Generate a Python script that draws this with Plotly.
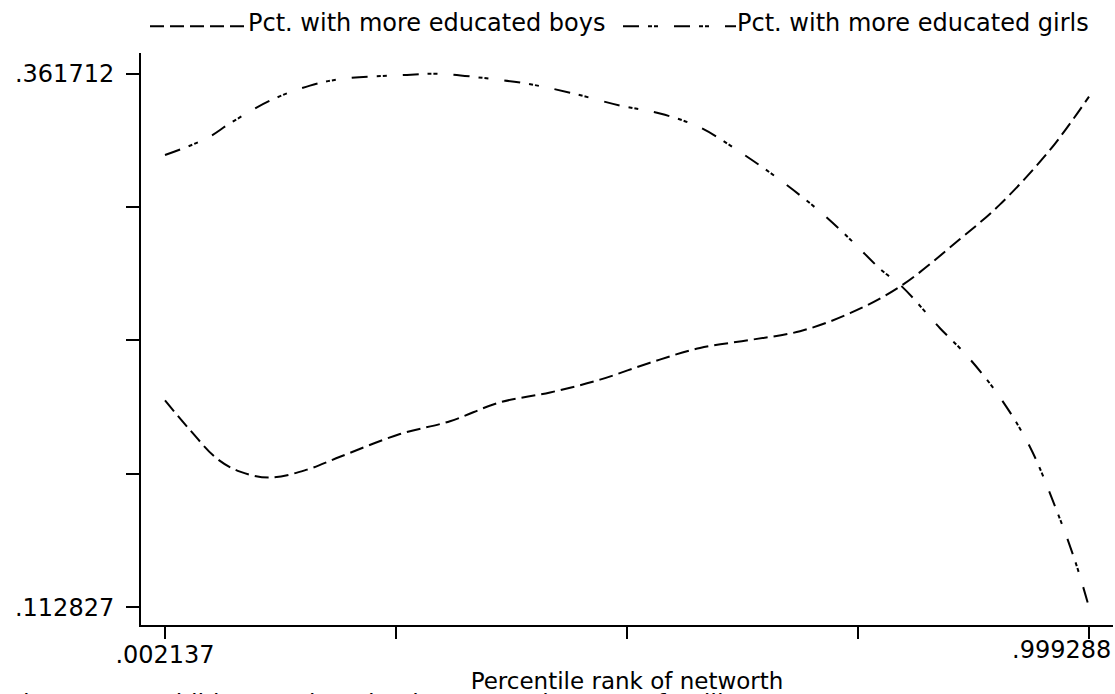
import plotly.graph_objects as go

# Smoothed shares by percentile rank of net worth
rank_boys = [0.002137, 0.0291, 0.0583, 0.0831, 0.1154, 0.1554, 0.1910, 0.2557, 0.3097,
             0.3637, 0.4177, 0.4716, 0.5256, 0.5795, 0.6335, 0.6874, 0.7414, 0.7953,
             0.8601, 0.9033, 0.9572, 0.999288]
pct_boys = [0.2093, 0.1955, 0.1821, 0.1761, 0.1733, 0.1770, 0.1830, 0.1936, 0.1996,
            0.2084, 0.2130, 0.2190, 0.2269, 0.2338, 0.2375, 0.2416, 0.2500, 0.2624,
            0.2846, 0.3008, 0.3262, 0.3511]

rank_girls = [0.002137, 0.0475, 0.0723, 0.1154, 0.1586, 0.1942, 0.2633, 0.2989, 0.3453,
              0.3928, 0.4392, 0.4932, 0.5363, 0.5795, 0.6227, 0.6658, 0.7090, 0.7446,
              0.7738, 0.7975, 0.8385, 0.8677, 0.9033, 0.9356, 0.9626, 0.9842, 0.999288]
pct_girls = [0.3238, 0.3317, 0.3386, 0.3492, 0.3562, 0.3594, 0.3612, 0.361712, 0.3598,
             0.3571, 0.3529, 0.3469, 0.3432, 0.3367, 0.3252, 0.3122, 0.2974, 0.2832,
             0.2707, 0.2624, 0.2430, 0.2301, 0.2107, 0.1876, 0.1599, 0.1345, 0.112827]

x_min, x_max = 0.002137, 0.999288
y_min, y_max = 0.112827, 0.361712
x_ticks = [x_min + k * (x_max - x_min) / 4 for k in range(5)]
y_ticks = [y_min + k * (y_max - y_min) / 4 for k in range(5)]
x_ticktext = [".002137", "", "", "", ""]
y_ticktext = [".112827", "", "", "", ".361712"]

series_names = ["Pct. with more educated boys", "Pct. with more educated girls"]
caption = "Figure 2.1c: Children's education by networth, SB, PS families"

FONT = "DejaVu Sans"
BOYS_DASH = "14px,6px"
GIRLS_DASH = "16px,9px,4px,2px,4px,16px"

# Plot area geometry in pixels
W, H = 1115, 694
L, R, T, B = 141, 2, 53, 64
PW, PH = W - L - R, H - T - B


def px(xp):
    return (xp - L) / PW


def py(yp):
    return (H - B - yp) / PH


fig = go.Figure()
fig.add_trace(go.Scatter(x=rank_boys, y=pct_boys, mode="lines", name=series_names[0],
                         line=dict(color="black", width=2, dash=BOYS_DASH,
                                   shape="spline", smoothing=1.0)))
fig.add_trace(go.Scatter(x=rank_girls, y=pct_girls, mode="lines", name=series_names[1],
                         line=dict(color="black", width=2, dash=GIRLS_DASH,
                                   shape="spline", smoothing=1.0)))

# Legend line samples and labels across the top
legend_y = 26
fig.add_shape(type="line", xref="paper", yref="paper", x0=px(150), x1=px(246),
              y0=py(legend_y), y1=py(legend_y),
              line=dict(color="black", width=2, dash=BOYS_DASH))
fig.add_shape(type="line", xref="paper", yref="paper", x0=px(623), x1=px(736),
              y0=py(legend_y), y1=py(legend_y),
              line=dict(color="black", width=2, dash=GIRLS_DASH))
fig.add_annotation(xref="paper", yref="paper", x=px(246), y=py(23), xanchor="left",
                   yanchor="middle", text=series_names[0], showarrow=False,
                   font=dict(family=FONT, size=24, color="black"))
fig.add_annotation(xref="paper", yref="paper", x=px(735), y=py(23), xanchor="left",
                   yanchor="middle", text=series_names[1], showarrow=False,
                   font=dict(family=FONT, size=24, color="black"))

# Right-hand x tick label, kept inside the page edge
fig.add_annotation(xref="x", yref="paper", x=x_max, y=0, xanchor="right", yanchor="top",
                   xshift=24, yshift=-9, text=".999288", showarrow=False,
                   font=dict(family=FONT, size=24, color="black"))

# Caption below the chart, running off the bottom of the page
fig.add_annotation(xref="paper", yref="paper", x=px(9), y=py(694), xanchor="left",
                   yanchor="top", text=caption, showarrow=False,
                   font=dict(family=FONT, size=24, color="black"))

fig.update_layout(
    width=W, height=H,
    margin=dict(l=L, r=R, t=T, b=B, pad=0),
    paper_bgcolor="white", plot_bgcolor="white",
    showlegend=False,
    font=dict(family=FONT, size=24, color="black"),
    xaxis=dict(
        range=[x_min - 24 / 926.6, x_max + 24 / 926.6],
        tickvals=x_ticks, ticktext=x_ticktext,
        ticks="outside", ticklen=12, tickwidth=2, tickcolor="black",
        showline=True, linewidth=2, linecolor="black",
        showgrid=False, zeroline=False,
        ticklabelstandoff=-5,
        title=dict(text="Percentile rank of networth", standoff=7,
                   font=dict(family=FONT, size=23)),
        tickfont=dict(family=FONT, size=24),
    ),
    yaxis=dict(
        range=[y_min - 18 / 2161.6, y_max + 21 / 2161.6],
        tickvals=y_ticks, ticktext=y_ticktext,
        ticks="outside", ticklen=13, tickwidth=2, tickcolor="black",
        showline=True, linewidth=2, linecolor="black",
        showgrid=False, zeroline=False,
        ticklabelstandoff=7,
        tickfont=dict(family=FONT, size=24),
    ),
)

fig.write_html("out.html")
